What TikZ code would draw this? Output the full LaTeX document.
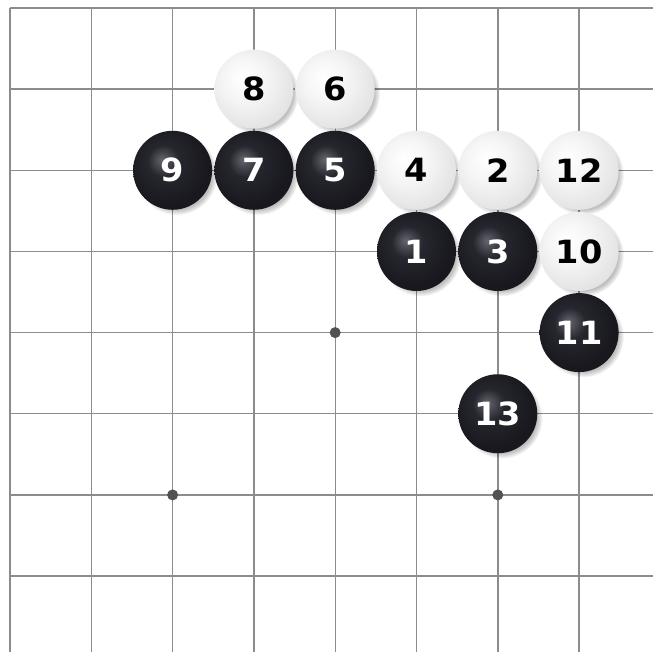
\documentclass[tikz,border=0pt]{standalone}
\usepackage{fontspec}
\setmainfont{DejaVu Sans}
\newfontfamily\stonefont[FakeStretch=1.05]{DejaVu Sans}
\usetikzlibrary{shadows}
\definecolor{bsdark}{RGB}{24,24,30}
\definecolor{bsmid}{RGB}{38,38,46}
\definecolor{bshi}{RGB}{100,100,108}
\pgfdeclareradialshading{blackstone}{\pgfpoint{-7bp}{7bp}}{color(0bp)=(bshi); color(10bp)=(bsmid); color(26bp)=(bsdark); color(45bp)=(bsdark); color(60bp)=(black)}
\pgfdeclareradialshading{whitestone}{\pgfpoint{-8bp}{8bp}}{color(0bp)=(white); color(14bp)=(white!96!black); color(32bp)=(white!88!black); color(48bp)=(white!76!black); color(60bp)=(white!70!black)}
\tikzset{
  gridline/.style={draw=black!45, line width=1.4pt},
  starpt/.style={circle, fill=black!68, inner sep=0pt, minimum size=11pt},
  stone/.style={circle, inner sep=0pt, minimum size=79pt,
    font=\stonefont\fontsize{32}{32}\selectfont\bfseries,
    circular drop shadow={shadow xshift=4pt, shadow yshift=-4pt, shadow scale=1.03, fill=black, opacity=0.25}},
  bstone/.style={stone, shading=blackstone, text=white},
  wstone/.style={stone, shading=whitestone, text=black},
}
\begin{document}
\begin{tikzpicture}[x={(81.3pt,0pt)}, y={(0pt,-81.15pt)}]
\useasboundingbox[fill=white] (-0.123,-0.0986) rectangle (7.909,7.936);
% grid
\foreach \i in {0,...,7} {
  \draw[gridline] (\i,0) -- (\i,7.936);
  \draw[gridline] (0,\i) -- (7.909,\i);
}
% star points
\node[starpt] (h1) at (4,4) {};
\node[starpt] (h2) at (2,6) {};
\node[starpt] (h3) at (6,6) {};
% stones
\node[wstone] (s8) at (3,1) {8};
\node[wstone] (s6) at (4,1) {6};
\node[bstone] (s9) at (2,2) {9};
\node[bstone] (s7) at (3,2) {7};
\node[bstone] (s5) at (4,2) {5};
\node[wstone] (s4) at (5,2) {4};
\node[wstone] (s2) at (6,2) {2};
\node[wstone] (s12) at (7,2) {12};
\node[bstone] (s1) at (5,3) {1};
\node[bstone] (s3) at (6,3) {3};
\node[wstone] (s10) at (7,3) {10};
\node[bstone] (s11) at (7,4) {11};
\node[bstone] (s13) at (6,5) {13};
\end{tikzpicture}
\end{document}
